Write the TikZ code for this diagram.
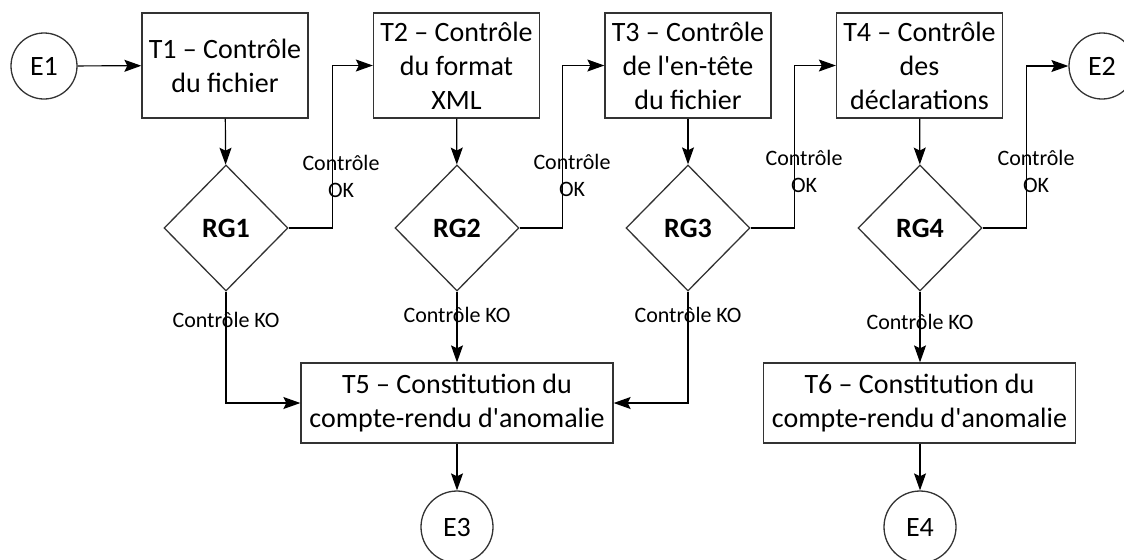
\documentclass[tikz,border=0pt]{standalone}
\usepackage{fontspec}
\setmainfont{Carlito}[Ligatures=TeXOff]
\usetikzlibrary{shapes.geometric,arrows.meta,positioning}
\begin{document}
\begin{tikzpicture}[x=0.5pt,y=-0.5pt,
  arr/.style={-{Stealth[length=8.5pt,width=6pt,inset=1.5pt]}, line width=0.6pt, draw=black},
  task/.style={draw=black!80,line width=0.65pt,rectangle,minimum width=83pt,minimum height=52.5pt,inner sep=1pt,align=center,font=\fontsize{14}{17}\selectfont},
  bigtask/.style={task,minimum width=156pt,minimum height=40pt},
  rg/.style={draw=black!80,line width=0.65pt,diamond,minimum width=62pt,minimum height=63pt,inner sep=0pt,font=\fontsize{14}{17}\selectfont\bfseries},
  ev/.style={draw=black!80,line width=0.65pt,circle,inner sep=0pt,font=\fontsize{14}{17}\selectfont},
  lab/.style={align=center,inner sep=0pt,font=\fontsize{11}{13.5}\selectfont}]
\useasboundingbox (0,0) rectangle (1124,559);
\node[ev,minimum size=33pt] (E1) at (44,66) {E1};
\node[ev,minimum size=33pt] (E2) at (1102,66) {E2};
\node[ev,minimum size=36pt] (E3) at (457,527) {E3};
\node[ev,minimum size=36pt] (E4) at (920,527) {E4};
\node[task] (T1) at (225,65.5) {T1 – Contrôle\\du fichier};
\node[task] (T2) at (456.5,65.5) {T2 – Contrôle\\du format\\XML};
\node[task] (T3) at (688,65.5) {T3 – Contrôle\\de l'en-tête\\du fichier};
\node[task] (T4) at (919.5,65.5) {T4 – Contrôle\\des\\déclarations};
\node[rg] (R1) at (226,228) {RG1};
\node[rg] (R2) at (457,228) {RG2};
\node[rg] (R3) at (688,228) {RG3};
\node[rg] (R4) at (920,228) {RG4};
\node[bigtask] (T5) at (457,403) {T5 – Constitution du\\compte-rendu d'anomalie};
\node[bigtask] (T6) at (919.5,403) {T6 – Constitution du\\compte-rendu d'anomalie};
\draw[arr] (E1) -- (T1);
\draw[arr] (T1) -- (R1);
\draw[arr] (T2) -- (R2);
\draw[arr] (T3) -- (R3);
\draw[arr] (T4) -- (R4);
\draw[arr] (R1.east) -- ++(44,0) |- (T2.west);
\draw[arr] (R2.east) -- ++(43,0) |- (T3.west);
\draw[arr] (R3.east) -- ++(44,0) |- (T4.west);
\draw[arr] (R4.east) -- ++(44,0) |- (E2.west);
\draw[arr] (R1.south) |- (T5.west);
\draw[arr] (R2.south) -- (T5.north);
\draw[arr] (R3.south) |- (T5.east);
\draw[arr] (R4.south) -- (R4.south |- T6.north);
\draw[arr] (T5) -- (E3);
\draw[arr] (T6.south -| E4.north) -- (E4.north);
\node[lab] (L1) at (341,176) {Contrôle\\OK};
\node[lab] (L2) at (572,175) {Contrôle\\OK};
\node[lab] (L3) at (804,171) {Contrôle\\OK};
\node[lab] (L4) at (1036,171) {Contrôle\\OK};
\node[lab] (K1) at (226,320) {Contrôle KO};
\node[lab] (K2) at (457,315) {Contrôle KO};
\node[lab] (K3) at (688,315) {Contrôle KO};
\node[lab] (K4) at (920,322) {Contrôle KO};
\end{tikzpicture}
\end{document}
